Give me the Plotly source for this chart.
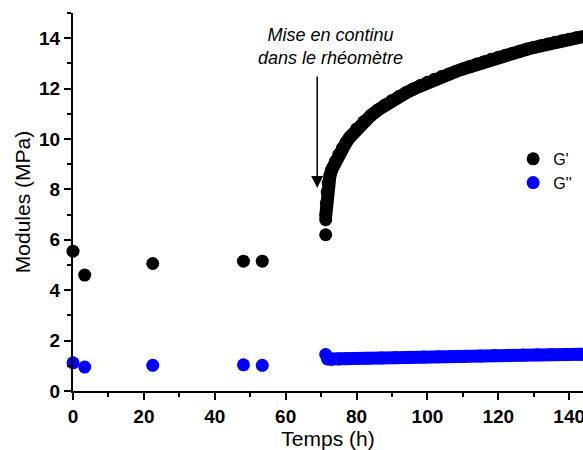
import plotly.graph_objects as go

# Discrete measurements
t_disc = [0, 3.3, 22.5, 48.1, 53.4, 71.3, 71.3]
gp_disc = [5.55, 4.6, 5.06, 5.15, 5.15, 6.2, 6.8]
t_disc_b = [0, 3.3, 22.5, 48.1, 53.4, 71.3]
gpp_disc = [1.12, 0.95, 1.02, 1.04, 1.02, 1.45]

# Continuous measurement in the rheometer
t_cont = [71.3, 71.5, 71.7, 72.0, 72.5, 73, 74, 75, 76, 77, 78, 80, 82, 84, 86, 88,
          90, 92, 94, 96, 98, 100, 102, 104, 106, 108, 110, 112, 114, 116, 118,
          120, 122, 124, 126, 128, 130, 132, 134, 136, 138, 140, 142, 144, 146]
gp_cont = [6.95, 7.45, 7.9, 8.25, 8.55, 8.78, 9.1, 9.38, 9.63, 9.85, 10.05, 10.4,
           10.68, 10.93, 11.15, 11.35, 11.53, 11.69, 11.84, 11.98, 12.12, 12.25,
           12.37, 12.48, 12.58, 12.68, 12.78, 12.88, 12.98, 13.07, 13.16, 13.24,
           13.32, 13.4, 13.48, 13.56, 13.63, 13.7, 13.77, 13.84, 13.9, 13.96,
           14.02, 14.08, 14.13]
t_cont_b = [71.8, 73, 75, 77, 79, 83, 87, 91, 95, 99, 103, 107, 111, 115, 119,
            123, 127, 131, 135, 139, 143, 147]
gpp_cont = [1.27, 1.26, 1.27, 1.28, 1.29, 1.3, 1.31, 1.32, 1.34, 1.35, 1.36, 1.37,
            1.38, 1.39, 1.41, 1.42, 1.43, 1.44, 1.45, 1.45, 1.46, 1.47]

x_ticks = [0, 20, 40, 60, 80, 100, 120, 140]
y_ticks = [0, 2, 4, 6, 8, 10, 12, 14]

FONT = "Arial, Liberation Sans, sans-serif"
MS = 13
fig = go.Figure()
fig.add_trace(go.Scatter(x=t_cont, y=gp_cont, mode="lines+markers", showlegend=False,
                         line=dict(color="black", width=MS),
                         marker=dict(color="black", size=MS), cliponaxis=False))
fig.add_trace(go.Scatter(x=t_cont_b, y=gpp_cont, mode="lines+markers", showlegend=False,
                         line=dict(color="#0000ff", width=MS),
                         marker=dict(color="#0000ff", size=MS), cliponaxis=False))
fig.add_trace(go.Scatter(x=t_disc, y=gp_disc, mode="markers", name="G'",
                         marker=dict(color="black", size=MS), cliponaxis=False))
fig.add_trace(go.Scatter(x=t_disc_b, y=gpp_disc, mode="markers", name="G''",
                         marker=dict(color="#0000ff", size=MS), cliponaxis=False))

axis_common = dict(showline=True, linecolor="black", linewidth=2, ticks="outside",
                   ticklen=7, tickwidth=2, tickcolor="black", showgrid=False,
                   zeroline=False, mirror=False, automargin=False,
                   ticklabeloverflow="allow",
                   tickfont=dict(family=FONT, size=19, color="black", weight="bold"),
                   title_font=dict(family=FONT, size=21, color="black"))

fig.update_xaxes(range=[0, 143.9], tickvals=x_ticks, title_text="Temps (h)", title_standoff=2,
                 minor=dict(dtick=10, tick0=0, ticks="outside", ticklen=4, tickwidth=2,
                            tickcolor="black"), **axis_common)
fig.update_yaxes(range=[0, 15], tickvals=y_ticks, title_text="Modules (MPa)", title_standoff=3,
                 minor=dict(dtick=1, tick0=0, ticks="outside", ticklen=4, tickwidth=2,
                            tickcolor="black"), **axis_common)

fig.add_annotation(x=68.9, y=8.06, ax=68.9, ay=12.54, axref="x", ayref="y",
                   xref="x", yref="y", text="", showarrow=True, arrowhead=2,
                   arrowsize=1.6, arrowwidth=1.5, arrowcolor="black")
fig.add_annotation(x=72.6, y=13.69, xref="x", yref="y", showarrow=False,
                   text="<i>Mise en continu<br>dans le rhéomètre</i>",
                   font=dict(family=FONT, size=18, color="black"))

fig.update_layout(width=583, height=450, margin=dict(l=73, r=0, t=13, b=59),
                  plot_bgcolor="white", paper_bgcolor="white",
                  font=dict(family=FONT, color="black"),
                  legend=dict(x=0.863, y=0.659, xanchor="left", yanchor="top",
                              bgcolor="rgba(0,0,0,0)",
                              font=dict(family=FONT, size=16, color="black")))

fig.write_html("out.html", config={"displayModeBar": False},
               post_script="document.body.style.margin='0px';document.body.style.overflow='hidden';")
